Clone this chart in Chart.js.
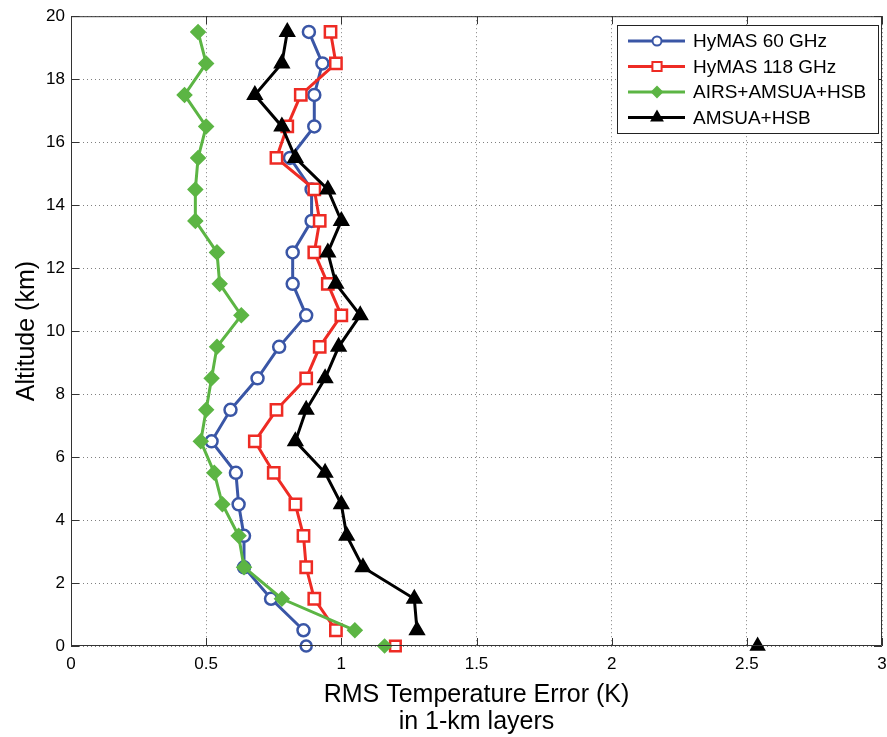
<!DOCTYPE html>
<html>
<head>
<meta charset="utf-8">
<script src="https://cdn.jsdelivr.net/npm/chart.js@4/dist/chart.umd.min.js"></script>
<style>
  body { margin:0; background:#fff; }
  #wrap { width:887px; height:737px; position:relative; }
</style>
</head>
<body>
<div id="wrap"><canvas id="chartRms"></canvas></div>
<script>
// altitude of each 1-km layer (km)
const altitudes = [0.5,1.5,2.5,3.5,4.5,5.5,6.5,7.5,8.5,9.5,10.5,11.5,12.5,13.5,14.5,15.5,16.5,17.5,18.5,19.5];

// RMS temperature error (K), bottom to top
const hymas60  = [0.86,0.74,0.64,0.64,0.62,0.61,0.52,0.59,0.69,0.77,0.87,0.82,0.82,0.89,0.89,0.81,0.90,0.90,0.93,0.88];
const hymas118 = [0.98,0.90,0.87,0.86,0.83,0.75,0.68,0.76,0.87,0.92,1.00,0.95,0.90,0.92,0.90,0.76,0.80,0.85,0.98,0.96];
const airs     = [1.05,0.78,0.64,0.62,0.56,0.53,0.48,0.50,0.52,0.54,0.63,0.55,0.54,0.46,0.46,0.47,0.50,0.42,0.50,0.47];
const amsua    = [1.28,1.27,1.08,1.02,1.00,0.94,0.83,0.87,0.94,0.99,1.07,0.98,0.95,1.00,0.95,0.83,0.78,0.68,0.78,0.80];

// surface values (altitude 0), drawn as lone markers
const surfaceAlt = 0;
const surface = [0.87, 1.20, 1.16, 2.54];

const seriesNames = ['HyMAS 60 GHz', 'HyMAS 118 GHz', 'AIRS+AMSUA+HSB', 'AMSUA+HSB'];
const seriesValues = [hymas60, hymas118, airs, amsua];

const xTicks = [0, 0.5, 1, 1.5, 2, 2.5, 3];
const yTicks = [0, 2, 4, 6, 8, 10, 12, 14, 16, 18, 20];

const styles = [
  { color:'#3a56a6', fill:'#ffffff', shape:'circle',   r:6   },
  { color:'#ee2b24', fill:'#ffffff', shape:'rect',     r:8   },
  { color:'#5cb544', fill:'#5cb544', shape:'rectRot',  r:6.5 },
  { color:'#000000', fill:'#000000', shape:'triangle', r:7.5 }
];

const FONT = "'Liberation Sans', Arial, Helvetica, sans-serif";

const datasets = [];
seriesValues.forEach((vals, i) => {
  const s = styles[i];
  datasets.push({
    label: seriesNames[i],
    data: vals.map((v, k) => ({ x: v, y: altitudes[k] })),
    showLine: true,
    borderColor: s.color,
    borderWidth: 3,
    pointStyle: s.shape,
    pointRadius: s.r,
    pointBorderColor: s.color,
    pointBackgroundColor: s.fill,
    pointBorderWidth: 2.5,
    order: 4 - i
  });
});
seriesValues.forEach((vals, i) => {
  const s = styles[i];
  datasets.push({
    label: seriesNames[i] + ' surface',
    data: [{ x: surface[i], y: surfaceAlt }],
    showLine: false,
    pointStyle: s.shape,
    pointRadius: s.r - 0.5,
    pointBorderColor: s.color,
    pointBackgroundColor: s.fill,
    pointBorderWidth: 2.5,
    clip: false,
    order: 4 - i
  });
});

// box round the plot + inward tick marks
const boxPlugin = {
  id: 'box',
  afterDatasetsDraw(chart) {
    const { ctx, chartArea: a, scales: { x, y } } = chart;
    ctx.save();
    ctx.strokeStyle = '#333';
    ctx.lineWidth = 1;
    ctx.beginPath();
    ctx.rect(a.left + 0.5, a.top + 0.5, a.right - a.left - 1, a.bottom - a.top - 1);
    const len = 8;
    xTicks.forEach(t => {
      const px = Math.round(x.getPixelForValue(t)) + 0.5;
      ctx.moveTo(px, a.bottom); ctx.lineTo(px, a.bottom - len);
      ctx.moveTo(px, a.top); ctx.lineTo(px, a.top + len);
    });
    yTicks.forEach(t => {
      const py = Math.round(y.getPixelForValue(t)) + 0.5;
      ctx.moveTo(a.left, py); ctx.lineTo(a.left + len, py);
      ctx.moveTo(a.right, py); ctx.lineTo(a.right - len, py);
    });
    ctx.stroke();
    ctx.restore();
  }
};

// legend box in the upper right, line + marker samples
const legendPlugin = {
  id: 'boxLegend',
  afterDraw(chart) {
    const { ctx } = chart;
    const bx = 617, by = 25, bw = 261, bh = 108;
    ctx.save();
    ctx.fillStyle = '#fff';
    ctx.fillRect(bx, by, bw, bh);
    ctx.strokeStyle = '#222';
    ctx.lineWidth = 1;
    ctx.strokeRect(bx + 0.5, by + 0.5, bw, bh);
    ctx.font = '19px ' + FONT;
    ctx.textBaseline = 'middle';
    seriesNames.forEach((name, i) => {
      const s = styles[i];
      const ly = by + 16 + i * 25.5;
      ctx.strokeStyle = s.color;
      ctx.lineWidth = 3;
      ctx.beginPath();
      ctx.moveTo(bx + 11, ly); ctx.lineTo(bx + 68, ly);
      ctx.stroke();
      ctx.fillStyle = s.fill;
      ctx.lineWidth = 2;
      Chart.helpers.drawPoint(ctx, { pointStyle: s.shape, radius: s.r - 1.5, borderWidth: 2, rotation: 0 }, bx + 40, ly);
      ctx.fillStyle = '#000';
      ctx.fillText(name, bx + 76, ly + 1);
    });
    ctx.restore();
  }
};

new Chart(document.getElementById('chartRms'), {
  type: 'scatter',
  data: { datasets },
  options: {
    responsive: true,
    maintainAspectRatio: false,
    animation: false,
    layout: { autoPadding: false, padding: { top: 16, right: 5, left: 0, bottom: 0 } },
    plugins: { legend: { display: false }, tooltip: { enabled: false } },
    scales: {
      x: {
        type: 'linear', min: 0, max: 3,
        afterBuildTicks: s => { s.ticks = xTicks.map(v => ({ value: v })); },
        afterFit: s => { s.height = 91; s.paddingRight = 0; },
        grid: { color: '#808080', lineWidth: 1, drawTicks: false },
        border: { display: false, dash: [1, 3] },
        ticks: { color: '#000', padding: 8, font: { family: FONT, size: 17 }, callback: v => String(v) },
        title: {
          display: true,
          text: ['RMS Temperature Error (K)', 'in 1-km layers'],
          color: '#000',
          font: { family: FONT, size: 25, lineHeight: 1.1 },
          padding: { top: 0, bottom: 1 }
        }
      },
      y: {
        type: 'linear', min: 0, max: 20,
        afterBuildTicks: s => { s.ticks = yTicks.map(v => ({ value: v })); },
        afterFit: s => { s.width = 71; },
        grid: { color: '#808080', lineWidth: 1, drawTicks: false },
        border: { display: false, dash: [1, 3] },
        ticks: { color: '#000', padding: 6, font: { family: FONT, size: 17 }, callback: v => String(v) },
        title: {
          display: true,
          text: 'Altitude (km)',
          color: '#000',
          font: { family: FONT, size: 25, lineHeight: 1.2 },
          padding: { top: 12, bottom: 0 }
        }
      }
    }
  },
  plugins: [boxPlugin, legendPlugin]
});
</script>
</body>
</html>
